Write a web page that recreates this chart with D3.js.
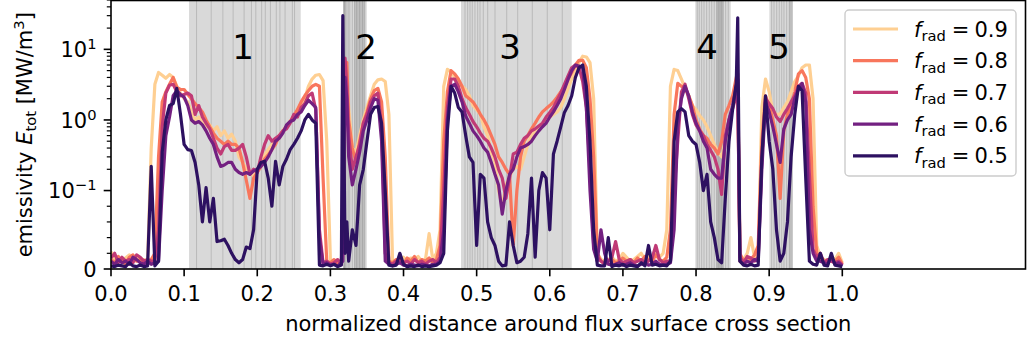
<!DOCTYPE html>
<html><head><meta charset="utf-8">
<script src="https://cdn.jsdelivr.net/npm/d3@7"></script>
<style>body{margin:0;background:#fff}svg{display:block}text{font-family:"DejaVu Sans",sans-serif;fill:#000}</style>
</head><body><svg id="c" width="1027" height="343"></svg>
<script>
// ---------------- data ----------------
const xs = [
 0,0.005,0.01,0.015,0.02,0.025,0.03,0.035,0.04,0.045,0.05,
 0.055,0.06,0.065,0.07,0.075,0.08,0.085,0.09,0.095,0.1,
 0.105,0.11,0.115,0.12,0.125,0.13,0.135,0.14,0.145,0.15,0.155,0.16,0.165,
 0.17,0.175,0.18,0.185,0.19,0.195,0.2,0.205,0.21,0.215,0.22,0.225,0.23,0.235,0.24,0.245,0.25,0.255,0.26,0.265,0.27,0.275,0.28,0.285,0.29,0.295,0.3,
 0.305,0.31,0.315,0.317,0.32,0.3225,0.325,0.33,0.335,0.34,0.345,0.35,0.355,0.36,0.365,0.37,0.375,0.38,
 0.385,0.39,0.395,0.4,0.405,0.41,0.415,0.42,0.425,0.43,0.435,0.44,0.445,0.45,
 0.455,0.46,0.465,0.47,0.475,0.48,0.485,0.49,0.495,0.5,0.505,0.51,0.515,0.52,0.525,0.53,0.535,0.54,0.545,0.55,0.555,0.56,0.565,0.57,0.575,0.58,0.585,0.59,0.595,0.6,0.605,0.61,0.615,0.62,0.625,0.63,0.635,0.64,0.645,0.65,0.655,0.66,0.665,0.67,
 0.675,0.68,0.685,0.69,0.695,0.7,0.705,0.71,0.715,0.72,0.725,0.73,0.735,0.74,0.745,0.75,0.755,0.76,
 0.765,0.77,0.775,0.78,0.785,0.79,0.795,0.8,0.805,0.81,0.815,0.82,0.825,0.83,0.835,0.84,0.845,0.85,0.855,0.857,0.86,
 0.865,0.87,0.875,0.88,0.885,
 0.89,0.895,0.9,0.905,0.91,0.915,0.92,0.925,0.93,0.935,0.94,0.945,0.95,0.955,0.96,0.965,
 0.97,0.975,0.98,0.985,0.99,0.995,1.0
];
const f09 = [
 0.022,0.012,0.015,0.010,0.014,0.018,0.012,0.016,0.010,0.012,0.008,
 0.4,3.2,4.7,4.3,3.9,4.4,4.0,3.0,2.4,2.0,
 1.8,1.3,1.0,1.1,0.9,0.8,0.85,0.7,0.8,0.6,0.7,0.55,0.63,
 0.5,0.3,0.25,0.2,0.18,0.16,0.2,0.25,0.32,0.38,0.45,0.5,0.55,0.7,0.82,0.95,1.1,1.4,1.7,2.0,3.0,3.8,4.3,4.4,3.6,0.5,0.012,
 0.008,0.01,0.008,0.02,2.0,4.0,1.5,0.4,0.35,0.6,1.0,1.5,2.2,3.2,3.7,3.8,3.5,1.2,
 0.01,0.008,0.012,0.015,0.01,0.014,0.012,0.016,0.01,0.012,0.045,0.012,0.02,0.05,
 3.0,5.2,4.8,4.0,3.3,3.0,2.7,2.2,1.6,1.4, 1.2,0.8,0.6,0.35,0.25,0.1,0.08,0.12,0.16,0.2, 0.22,0.2,0.3,0.45,0.6,0.7,0.82,0.9,1.0,1.1, 1.2,1.3,1.5,2.0,2.8,3.8,5.0,6.5,8.0,7.8, 6.5,2.0,0.02,0.012,
 0.01,0.012,0.015,0.01,0.012,0.02,0.015,0.01,0.012,0.016,0.02,0.012,0.018,0.014,0.022,0.015,0.02,0.05,
 3.0,5.2,5.0,3.8,2.8,2.2,1.6,1.4,1.15,1.0,0.8,0.6,0.45,0.35,0.3,0.5,0.9,1.5,2.5,3.0,0.01,
 0.012,0.02,0.04,0.015,0.02,
 1.5,3.8,2.5,1.3,1.2,1.2,1.5,1.8,2.5,3.5,4.2,5.5,6.0,6.0,2.0,0.03,
 0.015,0.012,0.01,0.015,0.012,0.02,0.008
];
const f08 = [
 0.012,0.008,0.016,0.010,0.006,0.015,0.018,0.010,0.012,0.008,0.010,
 0.012,0.02,0.3,1.8,2.5,3.2,4.0,2.9,2.7,2.7,
 2.3,2.0,1.7,1.5,1.3,1.0,0.8,0.65,0.55,0.5,0.45,0.5,0.45,
 0.45,0.4,0.25,0.14,0.09,0.15,0.18,0.22,0.28,0.32,0.38,0.45,0.6,0.7,0.8,0.95,1.15,1.4,1.8,2.2,2.6,3.0,3.2,3.0,0.15,0.01,0.008,
 0.012,0.006,0.01,0.05,6.0,6.5,1.0,0.4,0.25,0.5,0.9,1.3,2.0,2.6,2.8,1.8,0.3,0.01,
 0.008,0.012,0.010,0.006,0.014,0.010,0.016,0.008,0.012,0.010,0.014,0.008,0.012,0.03,
 0.5,2.5,5.0,4.5,3.8,3.0,2.2,2.0,1.8,1.5, 1.2,1.0,0.8,0.6,0.45,0.3,0.25,0.2,0.17,0.03, 0.1,0.3,0.5,0.6,0.75,0.9,1.1,1.3,1.45,1.6, 1.8,2.1,2.5,3.0,3.8,4.7,6.0,7.0,7.0,5.5, 2.0,0.3,0.02,0.01,
 0.008,0.01,0.012,0.008,0.01,0.014,0.01,0.012,0.008,0.014,0.01,0.016,0.012,0.01,0.018,0.012,0.01,0.015,
 0.05,1.2,3.3,3.0,2.9,2.2,1.6,1.0,0.74,0.6,0.55,0.45,0.4,0.33,0.5,1.2,1.6,2.2,4.0,4.5,0.02,
 0.01,0.015,0.012,0.018,0.03,
 0.5,2.2,1.6,1.0,0.6,0.09,0.7,1.2,1.6,2.5,4.5,5.0,4.0,2.0,0.08,0.02,
 0.012,0.01,0.008,0.012,0.01,0.015,0.006
];
const f07 = [
 0.014,0.020,0.008,0.015,0.010,0.012,0.008,0.018,0.015,0.010,0.012,
 0.01,0.01,0.05,0.8,2.4,3.1,3.2,2.5,2.2,2.3,
 2.4,2.2,1.2,1.6,1.1,0.9,0.75,0.55,0.4,0.33,0.42,0.45,0.37,
 0.37,0.4,0.45,0.3,0.17,0.2,0.18,0.3,0.45,0.6,0.5,0.55,0.6,0.7,0.75,0.9,1.2,1.1,1.5,1.7,2.2,2.4,1.4,0.05,0.008,0.01,0.006,
 0.008,0.012,0.006,0.02,7.5,3.0,0.6,0.2,0.3,0.45,0.9,1.2,1.8,2.2,2.4,0.8,0.02,0.008,
 0.006,0.01,0.012,0.008,0.01,0.006,0.012,0.008,0.01,0.006,0.01,0.012,0.008,0.015,
 0.1,1.5,3.8,3.8,3.0,2.0,1.5,1.2,0.95,0.8, 0.65,0.55,0.5,0.4,0.3,0.2,0.15,0.09,0.15,0.33, 0.35,0.45,0.55,0.6,0.7,0.75,0.82,0.9,1.1,1.28, 1.5,1.9,2.4,3.2,4.2,5.5,6.0,5.5,3.5,1.5, 0.2,0.03,0.015,0.01,
 0.006,0.01,0.015,0.035,0.012,0.008,0.01,0.012,0.008,0.01,0.012,0.008,0.01,0.014,0.03,0.012,0.008,0.01,
 0.01,0.1,0.5,2.5,3.2,2.0,1.2,0.85,0.7,0.6,0.45,0.37,0.3,0.2,0.095,0.6,1.0,1.45,2.2,2.7,0.015,
 0.008,0.016,0.014,0.01,0.015,
 0.3,2.0,1.7,1.45,1.1,0.95,1.2,1.45,1.8,2.2,3.0,3.3,2.4,0.17,0.025,0.015,
 0.02,0.008,0.012,0.01,0.008,0.01,0.005
];
const f06 = [
 0.010,0.006,0.012,0.008,0.010,0.006,0.015,0.012,0.008,0.006,0.010,
 0.006,0.008,0.01,0.1,0.6,1.1,2.2,2.6,2.3,2.1,
 1.6,1.0,0.9,0.95,0.85,0.7,0.55,0.45,0.3,0.22,0.23,0.25,0.25,
 0.2,0.18,0.17,0.18,0.17,0.19,0.2,0.22,0.25,0.3,0.38,0.5,0.55,0.65,0.85,0.95,1.0,1.2,1.3,1.6,1.9,1.7,1.5,0.04,0.006,0.008,0.005,
 0.006,0.004,0.008,0.01,4.0,2.0,0.3,0.12,0.2,0.35,0.7,1.0,1.5,2.0,1.9,0.5,0.01,0.006,
 0.004,0.006,0.008,0.005,0.004,0.006,0.005,0.004,0.006,0.005,0.004,0.006,0.006,0.01,
 0.05,1.0,3.0,3.2,2.5,1.8,1.14,0.9,0.7,0.6, 0.5,0.4,0.35,0.25,0.17,0.12,0.07,0.1,0.17,0.2, 0.3,0.4,0.42,0.45,0.5,0.6,0.7,0.8,0.9,1.1, 1.3,1.6,2.0,2.7,3.75,5.0,6.0,5.8,5.5,1.5, 0.1,0.025,0.01,0.05,
 0.02,0.006,0.005,0.006,0.008,0.005,0.006,0.008,0.005,0.004,0.006,0.008,0.005,0.006,0.01,0.006,0.005,0.006,
 0.008,0.05,0.8,2.0,3.0,2.2,1.3,0.9,0.7,0.5,0.4,0.2,0.17,0.15,0.15,0.5,1.0,1.6,3.0,3.75,0.01,
 0.006,0.01,0.008,0.012,0.01,
 0.2,1.8,1.3,0.8,0.45,0.25,0.74,1.0,1.2,2.0,2.7,3.3,1.8,0.05,0.02,0.01,
 0.01,0.008,0.006,0.015,0.006,0.008,0.004
];
const f05 = [
 0.004,0.003,0.005,0.004,0.003,0.008,0.004,0.003,0.005,0.003,0.004,
 0.22,0.004,0.01,0.35,1.0,1.6,1.7,2.8,1.2,0.45,
 0.38,0.37,0.25,0.12,0.06,0.11,0.06,0.09,0.035,0.036,0.038,0.03,0.02,
 0.012,0.008,0.012,0.028,0.026,0.05,0.2,0.25,0.26,0.15,0.08,0.26,0.12,0.22,0.28,0.38,0.45,0.55,0.7,1.0,1.2,1.0,0.9,0.005,0.004,0.006,0.004,
 0.006,0.003,0.005,30,0.02,0.06,0.01,0.05,0.03,0.12,0.2,0.5,1.2,1.5,1.55,0.9,0.1,0.005,
 0.004,0.005,0.02,0.006,0.003,0.004,0.003,0.005,0.003,0.004,0.003,0.004,0.005,0.008,
 0.02,0.7,3.0,2.4,1.5,1.3,0.6,0.3,0.25,0.03, 0.17,0.15,0.06,0.04,0.03,0.01,0.004,0.005,0.06,0.03, 0.008,0.01,0.015,0.045,0.15,0.015,0.1,0.18,0.15,0.05, 0.33,0.5,0.8,1.28,1.6,2.2,4.0,5.5,6.0,3.0, 0.5,0.05,0.005,0.004,
 0.004,0.04,0.003,0.005,0.004,0.006,0.003,0.005,0.004,0.003,0.008,0.004,0.03,0.005,0.006,0.004,0.005,0.004,
 0.01,0.5,1.3,1.45,1.3,0.6,0.5,0.45,0.25,0.1,0.17,0.06,0.04,0.012,0.008,0.09,0.5,1.4,3.3,28,0.01,
 0.005,0.004,0.006,0.004,0.005,
 0.3,2.2,0.5,0.2,0.05,0.01,0.02,0.06,0.3,1.2,3.0,2.6,0.15,0.01,0.006,0.005,
 0.02,0.005,0.004,0.02,0.005,0.004,0.003
];
const seriesValues = [f09, f08, f07, f06, f05];
const fradLabels = ["0.9", "0.8", "0.7", "0.6", "0.5"];
const magmaPos = [0.9, 0.7125, 0.525, 0.3375, 0.17];

const xTicks = [0, 0.1, 0.2, 0.3, 0.4, 0.5, 0.6, 0.7, 0.8, 0.9, 1.0];
const xTickLabels = ["0.0","0.1","0.2","0.3","0.4","0.5","0.6","0.7","0.8","0.9","1.0"];
const yTicks = [0, 0.1, 1, 10];
const yTickBase = ["0", "10", "10", "10"];
const yTickExp = ["", "\u22121", "0", "1"];
const yMinorTicks = [0.02,0.04,0.06,0.08,0.2,0.3,0.4,0.5,0.6,0.7,0.8,0.9,2,3,4,5,6,7,8,9,20,30,40,50];

const regionBounds = [
 [0.1067,0.117,0.137,0.153,0.167,0.182,0.192,0.198,0.206,0.211,0.218,0.226,0.231,0.238,0.248,0.251,0.2594],
 [0.3177,0.319,0.3205,0.3225,0.3245,0.3265,0.330,0.333,0.336,0.340,0.344,0.347,0.3497],
 [0.4786,0.4841,0.4877,0.4909,0.494,0.4977,0.5014,0.5046,0.5091,0.5151,0.5251,0.5411,0.5561,0.5761,0.5966,0.6171,0.630],
 [0.799,0.8017,0.8044,0.8077,0.8109,0.8145,0.8181,0.8214,0.8249,0.8282,0.8304,0.8327,0.835,0.8372,0.8405,0.8441,0.8474],
 [0.9003,0.9034,0.9066,0.9103,0.9138,0.9171,0.9202,0.9239,0.9275,0.9323]
];
const regionOverlaps = [[0.3177,0.3205],[0.3177,0.319],[0.333,0.347],[0.828,0.8372],[0.9275,0.9323]];
const regionNames = ["1", "2", "3", "4", "5"];
const regionNameX = [0.1805, 0.3487, 0.5456, 0.815, 0.9134];
const regionNameY = 7.2;

// ---------------- layout ----------------
const L = 111, R = 1025.5, T = 0.5, B = 269;
const svg = d3.select("#c");
const x = d3.scaleLinear().domain([0, 1.25]).range([L, L + 1.25 * 731.3]);
const LT = 0.1, LS = 1 / (1 - 1 / 10);
function symlog(v) { const a = Math.abs(v), s = Math.sign(v); return a <= LT ? s * a / LT * LS : s * (LS + Math.log10(a / LT)); }
const yLin = d3.scaleLinear().domain([symlog(0), symlog(50)]).range([B, 0]);
const y = v => yLin(symlog(v));
const colors = magmaPos.map(t => d3.interpolateMagma(t));

// shaded regions
const gReg = svg.append("g");
regionBounds.forEach(b => {
  gReg.append("rect").attr("x", x(b[0])).attr("y", T).attr("width", x(b[b.length-1]) - x(b[0])).attr("height", B - T)
    .attr("fill", "#808080").attr("fill-opacity", 0.3);
  b.slice(1, -1).forEach(v => gReg.append("line").attr("x1", x(v)).attr("x2", x(v)).attr("y1", T).attr("y2", B)
    .attr("stroke", "#808080").attr("stroke-opacity", 0.35).attr("stroke-width", 1));
});
regionOverlaps.forEach(o => gReg.append("rect").attr("x", x(o[0])).attr("y", T).attr("width", x(o[1]) - x(o[0])).attr("height", B - T)
  .attr("fill", "#808080").attr("fill-opacity", 0.3));

// clip
svg.append("clipPath").attr("id", "clip").append("rect").attr("x", L).attr("y", 0).attr("width", R - L).attr("height", B);

// lines
const line = d3.line().x((d, i) => x(xs[i])).y(d => y(d));
const gl = svg.append("g").attr("clip-path", "url(#clip)");
seriesValues.forEach((vals, k) => {
  gl.append("path").attr("d", line(vals)).attr("fill", "none").attr("stroke", colors[k])
    .attr("stroke-width", 3.2).attr("stroke-linejoin", "round");
});

// region names
regionNames.forEach((n, i) => svg.append("text").attr("x", x(regionNameX[i])).attr("y", y(regionNameY))
  .attr("text-anchor", "middle").attr("font-size", 34).text(n));

// frame
svg.append("rect").attr("x", L).attr("y", T).attr("width", R - L).attr("height", B - T)
  .attr("fill", "none").attr("stroke", "#000").attr("stroke-width", 1.6);

// x ticks
const gx = svg.append("g");
xTicks.forEach((t, i) => {
  gx.append("line").attr("x1", x(t)).attr("x2", x(t)).attr("y1", B).attr("y2", B + 7.3).attr("stroke", "#000").attr("stroke-width", 1.6);
  gx.append("text").attr("x", x(t)).attr("y", B + 32).attr("text-anchor", "middle").attr("font-size", 21).text(xTickLabels[i]);
});
svg.append("text").attr("x", (L + R) / 2).attr("y", 331).attr("text-anchor", "middle").attr("font-size", 21)
  .text("normalized distance around flux surface cross section");

// y ticks
const gy = svg.append("g");
yTicks.forEach((t, i) => {
  gy.append("line").attr("x1", L - 7.3).attr("x2", L).attr("y1", y(t)).attr("y2", y(t)).attr("stroke", "#000").attr("stroke-width", 1.6);
  const tx = gy.append("text").attr("x", L - 14.5).attr("y", y(t) + 7.6).attr("text-anchor", "end").attr("font-size", 21);
  tx.append("tspan").text(yTickBase[i]);
  if (yTickExp[i]) tx.append("tspan").attr("font-size", 14.7).attr("dy", -8).text(yTickExp[i]);
});
yMinorTicks.forEach(t => gy.append("line").attr("x1", L - 4.2).attr("x2", L).attr("y1", y(t)).attr("y2", y(t))
  .attr("stroke", "#000").attr("stroke-width", 1.2));

// y label
const yl = svg.append("text").attr("transform", `translate(32,${(T + B) / 2}) rotate(-90)`).attr("text-anchor", "middle").attr("font-size", 21);
yl.append("tspan").text("emissivity ");
yl.append("tspan").attr("font-style", "italic").text("E");
yl.append("tspan").attr("font-size", 14.7).attr("dy", 4).text("tot");
yl.append("tspan").attr("dy", -4).text(" [MW/m");
yl.append("tspan").attr("font-size", 14.7).attr("dy", -8).text("3");
yl.append("tspan").attr("dy", 8).text("]");

// legend
const lg = svg.append("g");
lg.append("rect").attr("x", 845).attr("y", 10).attr("width", 171).attr("height", 166).attr("rx", 4)
  .attr("fill", "#fff").attr("fill-opacity", 0.8).attr("stroke", "#cccccc").attr("stroke-width", 1.4);
fradLabels.forEach((lab, k) => {
  const cy = 29 + k * 31.7;
  lg.append("line").attr("x1", 853).attr("x2", 898).attr("y1", cy).attr("y2", cy).attr("stroke", colors[k]).attr("stroke-width", 3.2);
  const t = lg.append("text").attr("x", 914).attr("y", cy + 7.5).attr("font-size", 21);
  t.append("tspan").attr("font-style", "italic").text("f");
  t.append("tspan").attr("font-size", 14.7).attr("dy", 4.5).text("rad");
  t.append("tspan").attr("dy", -4.5).attr("dx", 6).text("=");
  t.append("tspan").attr("dx", 5).text(lab);
});

// sanity check
seriesValues.forEach((v, k) => { if (v.length !== xs.length) svg.append("text").attr("x", 400).attr("y", 100 + k * 20).style("fill","red").text("len mismatch " + k + ": " + v.length + " vs " + xs.length); });
</script></body></html>
